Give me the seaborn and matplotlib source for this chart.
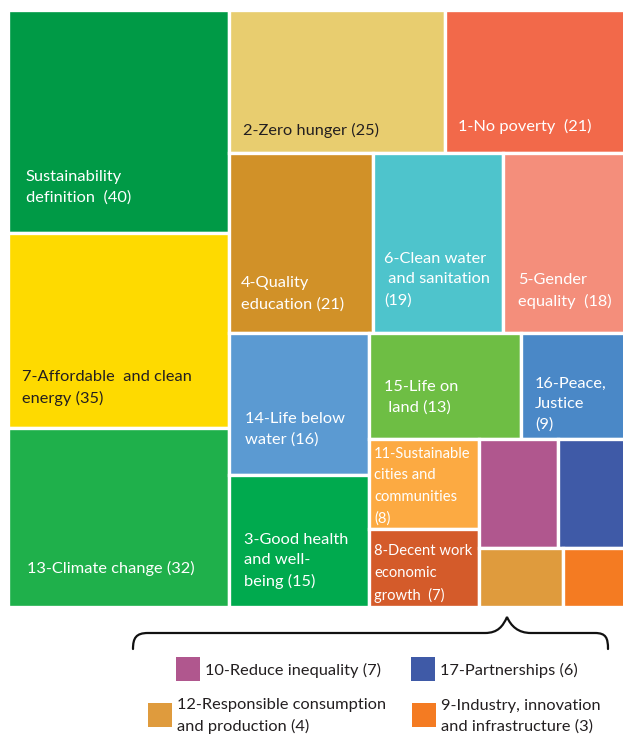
import matplotlib
matplotlib.use("Agg")
import matplotlib.pyplot as plt
from matplotlib.patches import Rectangle, PathPatch
from matplotlib.path import Path
import seaborn as sns

# ---------------- data ----------------
labels = [
    "Sustainability\ndefinition  (40)",
    "7-Affordable  and clean\nenergy (35)",
    "13-Climate change (32)",
    "2-Zero hunger (25)",
    "1-No poverty  (21)",
    "4-Quality\neducation (21)",
    "6-Clean water\n and sanitation\n(19)",
    "5-Gender\nequality  (18)",
    "14-Life below\nwater (16)",
    "3-Good health\nand well-\nbeing (15)",
    "15-Life on\n land (13)",
    "16-Peace,\nJustice\n(9)",
    "11-Sustainable\ncities and\ncommunities\n(8)",
    "8-Decent work\neconomic\ngrowth  (7)",
    "",
    "",
    "",
    "",
]
values = [40, 35, 32, 25, 21, 21, 19, 18, 16, 15, 13, 9, 8, 7, 7, 6, 4, 3]
colors = ["#009A46", "#FEDA00", "#1FB04B", "#E8CD6F", "#F2694A", "#D19128",
          "#4EC4CC", "#F48E7B", "#5B9AD2", "#00AA4E", "#6EBE44", "#4A88C7",
          "#FCAA42", "#D45B2A", "#B0578E", "#3F5AA7", "#DF9B3D", "#F47B22"]
legend_names = ["10-Reduce inequality (7)", "17-Partnerships (6)",
                "12-Responsible consumption\nand production (4)",
                "9-Industry, innovation\nand infrastructure (3)"]
legend_index = [14, 15, 16, 17]

# ---------------- style ----------------
dark_text = {1, 3}
label_pad = [(18, 28), (14, 22), (19, 31), (14, 15), (13, 19), (12, 22),
             (11, 26), (15, 24), (16, 28), (15, 18), (15, 24), (14, 7),
             (5, 3), (5, 4), (0, 0), (0, 0), (0, 0), (0, 0)]
small_font = {12, 13}
FONT = ["Lato", "DejaVu Sans"]
FS = 11.8
FS_SMALL = 10.6

sns.set_theme(style="white")
plt.rcParams["font.family"] = FONT


def worst(row, w):
    s = sum(row)
    return max(max(w * w * r / (s * s), s * s / (w * w * r)) for r in row)


def squarify(vals, x, y, dx, dy):
    total = sum(vals)
    areas = [v * dx * dy / total for v in vals]
    rects = []
    while areas:
        w = min(dx, dy)
        row = [areas[0]]
        i = 1
        while i < len(areas) and worst(row + [areas[i]], w) <= worst(row, w):
            row.append(areas[i])
            i += 1
        areas = areas[i:]
        s = sum(row)
        if dx >= dy:
            cw = s / dy
            yy = y
            for r in row:
                h = r / cw
                rects.append((x, yy, cw, h))
                yy += h
            x += cw
            dx -= cw
        else:
            rh = s / dx
            xx = x
            for r in row:
                wd = r / rh
                rects.append((xx, y, wd, rh))
                xx += wd
            y += rh
            dy -= rh
    return rects


fig = plt.figure(figsize=(6.23, 7.36), dpi=100)
ax = fig.add_axes([0, 0, 1, 1])
ax.set_xlim(0, 623)
ax.set_ylim(736, 0)
ax.axis("off")

rects = squarify(values, 8, 10, 618, 597)
for i, (x, y, w, h) in enumerate(rects):
    ax.add_patch(Rectangle((x, y), w, h, facecolor=colors[i],
                           edgecolor="white", linewidth=2.4))
    if labels[i]:
        px, py = label_pad[i]
        fs = FS_SMALL if i in small_font else FS
        ax.text(x + px, y + h - py, labels[i], ha="left", va="bottom",
                fontsize=fs, linespacing=1.58 if i not in small_font else 1.68,
                color="#231F20" if i in dark_text else "white")

# brace
verts = [(133, 649), (133, 638), (136, 633), (148, 633),
         (485, 633),
         (498, 633), (503, 626), (507, 617),
         (511, 626), (518, 633), (531, 633),
         (595, 633),
         (606, 633), (608, 638), (608, 649)]
codes = [Path.MOVETO, Path.CURVE4, Path.CURVE4, Path.CURVE4,
         Path.LINETO,
         Path.CURVE4, Path.CURVE4, Path.CURVE4,
         Path.CURVE4, Path.CURVE4, Path.CURVE4,
         Path.LINETO,
         Path.CURVE4, Path.CURVE4, Path.CURVE4]
ax.add_patch(PathPatch(Path(verts, codes), facecolor="none",
                       edgecolor="#111111", linewidth=1.6, capstyle="round"))

# legend
legend_pos = [(176, 657), (411, 657), (148, 703), (412, 703)]
for k, idx in enumerate(legend_index):
    lx, ly = legend_pos[k]
    ax.add_patch(Rectangle((lx, ly), 24, 24, facecolor=colors[idx],
                           edgecolor="none"))
    ax.text(lx + 29, ly + 13, legend_names[k], ha="left", va="center",
            fontsize=FS, linespacing=1.55, color="#231F20")

fig.savefig("out.png", dpi=100)
